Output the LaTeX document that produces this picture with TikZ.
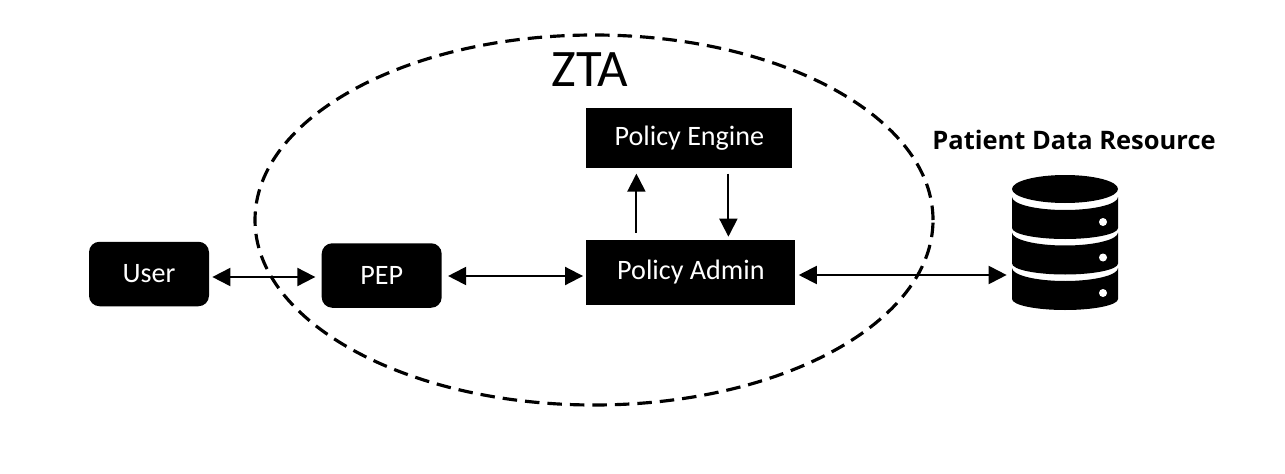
\documentclass[tikz,border=0pt]{standalone}
\usepackage{fontspec}
\setmainfont{Carlito}
\newfontfamily\headfont{Open Sans}
\usetikzlibrary{shapes.geometric, arrows.meta, positioning}

\begin{document}
\begin{tikzpicture}[
    term/.style={rectangle, fill=black, text=white, inner sep=0pt, rounded corners=6pt, minimum width=2.4cm, minimum height=1.29cm, font=\fontsize{16}{18}\selectfont},
    block/.style={rectangle, fill=black, text=white, inner sep=0pt, font=\fontsize{16}{18}\selectfont},
    arrow/.style={{Triangle[length=3.6mm,width=3.6mm]}-{Triangle[length=3.6mm,width=3.6mm]}, line width=1.1pt},
    oneway/.style={-{Triangle[length=3.6mm,width=3.6mm]}, line width=1.1pt},
    zone/.style={ellipse, draw, dashed, dash pattern=on 0.29cm off 0.16cm, line width=1.8pt, inner sep=0pt, minimum width=13.56cm, minimum height=7.4cm}
]
\useasboundingbox (0,0) rectangle (25.7,9.46);

\node[zone] (zta) at (11.88,5.06) {};
\node[font=\fontsize{30}{36}\selectfont] (ztatitle) at (11.8,8.06) {ZTA};

\node[term] (user) at (2.98,3.98) {User};
\node[term, right=2.24cm of user, yshift=-0.03cm] (pep) {PEP};
\node[block, minimum width=4.18cm, minimum height=1.3cm, right=2.88cm of pep, yshift=0.06cm] (admin) {Policy Admin};
\node[block, minimum width=4.12cm, minimum height=1.2cm, above=1.42cm of admin.north west, anchor=south west] (engine) {Policy Engine};

% database icon
\node[inner sep=0pt, minimum width=2.12cm, minimum height=2.7cm] (db) at (21.3,4.6) {};
\begin{scope}[shift={(db.center)}]
\fill (0,1.08) ellipse [x radius=1.06, y radius=0.28];
\foreach \ybase in {0.92,0.21,-0.50} {
    \fill (-1.06,\ybase) -- (-1.06,\ybase-0.62) arc[start angle=180, end angle=360, x radius=1.06, y radius=0.22] -- (1.06,\ybase) arc[start angle=360, end angle=180, x radius=1.06, y radius=0.26] -- cycle;
    \fill[white] (0.76,\ybase-0.5) circle (0.08);
}
\end{scope}
\node[font=\headfont\bfseries\fontsize{14.5}{18}\selectfont] (dblabel) at (21.48,6.66) {Patient Data Resource};

\draw[arrow, shorten <=0.06cm, shorten >=0.12cm] ([yshift=-0.06cm]user.east) -- ([yshift=-0.03cm]pep.west);
\draw[arrow, shorten <=0.12cm, shorten >=0.06cm] ([yshift=-0.01cm]pep.east) -- ([yshift=-0.07cm]admin.west);
\draw[arrow, shorten <=0.06cm, shorten >=0.1cm] ([yshift=-0.05cm]admin.east) -- ([yshift=-0.05cm]admin.east -| db.west);
\draw[oneway, shorten <=0.14cm, shorten >=0.1cm] ([xshift=-1.09cm]admin.north) -- ([xshift=-1.06cm]engine.south);
\draw[oneway, shorten <=0.1cm, shorten >=0.06cm] ([xshift=0.78cm]engine.south) -- ([xshift=0.75cm]admin.north);
\end{tikzpicture}
\end{document}
